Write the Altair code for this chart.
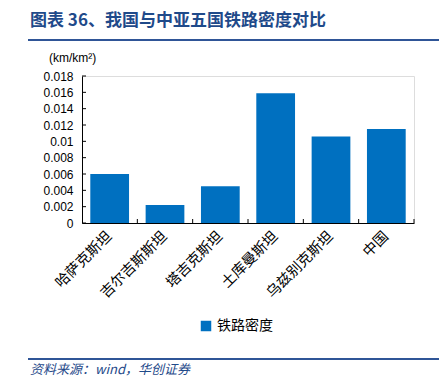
import altair as alt
import pandas as pd

categories = ["哈萨克斯坦", "吉尔吉斯斯坦", "塔吉克斯坦", "土库曼斯坦", "乌兹别克斯坦", "中国"]
density = [0.0060, 0.0022, 0.0045, 0.0159, 0.0106, 0.0115]
series_name = "铁路密度"
y_ticks = [0, 0.002, 0.004, 0.006, 0.008, 0.01, 0.012, 0.014, 0.016, 0.018]
title_text = "图表 36、我国与中亚五国铁路密度对比"
unit_text = "(km/km²)"
source_text = "资料来源：wind，华创证券"

W, H = 332, 147
BLUE = "#0070C0"
NAVY = "#1F4A8A"
CJK = "Noto Sans CJK SC"

df = pd.DataFrame({"cat": categories, "v": density, "s": [series_name] * len(categories)})

xs = alt.Scale(domain=categories, paddingInner=0.3, paddingOuter=0.15)
ys = alt.Scale(domain=[0, 0.018], nice=False)

x_axis = alt.Axis(labelAngle=-45, labelFont=CJK, labelFontSize=14.5, labelColor="#000",
                  ticks=False, domainColor="#000", labelPadding=11,
                  labelAlign="right", labelBaseline="middle", labelOverlap=False)
y_axis = alt.Axis(values=y_ticks, format="~g", grid=False, ticks=False,
                  domainColor="#000", labelFont="Liberation Sans", labelFontSize=12,
                  labelColor="#000", labelPadding=9, labelOverlap=False)

bars = alt.Chart(df).mark_bar(color=BLUE).encode(
    x=alt.X("cat:N", scale=xs, sort=categories, title=None, axis=x_axis),
    y=alt.Y("v:Q", scale=ys, title=None, axis=y_axis),
    color=alt.Color("s:N", scale=alt.Scale(domain=[series_name], range=[BLUE]),
                    legend=alt.Legend(title=None, orient="none", legendX=117, legendY=243,
                                      symbolType="square", symbolSize=110,
                                      labelFont=CJK, labelFontSize=14, labelColor="#000")),
)

tick_df = pd.DataFrame({"t": y_ticks})
yticks = alt.Chart(tick_df).mark_rule(color="#000", strokeWidth=1).encode(
    y=alt.Y("t:Q", scale=ys, title=None, axis=y_axis), x=alt.value(0), x2=alt.value(4))

xticks = alt.Chart(df).mark_rule(color="#000", strokeWidth=1, xOffset=8.3).encode(
    x=alt.X("cat:N", scale=xs, sort=categories, bandPosition=1, title=None, axis=x_axis),
    y=alt.value(H - 4), y2=alt.value(H))

def txt(s, x, y, size, color, font, weight="normal", style="normal", align="left"):
    return alt.Chart(pd.DataFrame({"t": [s]})).mark_text(
        align=align, baseline="middle", fontSize=size, color=color, font=font,
        fontWeight=weight, fontStyle=style).encode(
        text="t:N", x=alt.value(x), y=alt.value(y))

title = txt(title_text, -52, -55, 17, NAVY, CJK, weight="bold")
unit = txt(unit_text, -33, -18, 12, "#000", "Liberation Sans")
source = txt(source_text, -52, 294, 13, NAVY, CJK, style="italic")

line_df = pd.DataFrame({"a": [0]})
top_line = alt.Chart(line_df).mark_rule(color="#2F5597", strokeWidth=2).encode(
    x=alt.value(-54), x2=alt.value(360), y=alt.value(-36))
bot_line = alt.Chart(line_df).mark_rule(color="#2F5597", strokeWidth=2).encode(
    x=alt.value(-54), x2=alt.value(360), y=alt.value(283))

chart = alt.layer(bars, yticks, xticks, title, unit, source, top_line, bot_line).properties(
    width=W, height=H,
    autosize=alt.AutoSizeParams(type="none"),
    padding={"left": 74, "top": 68, "right": 25, "bottom": 156},
).configure_view(stroke=None).configure(background="#ffffff")

chart.save("out.html", embed_options={"renderer": "svg", "actions": False})
